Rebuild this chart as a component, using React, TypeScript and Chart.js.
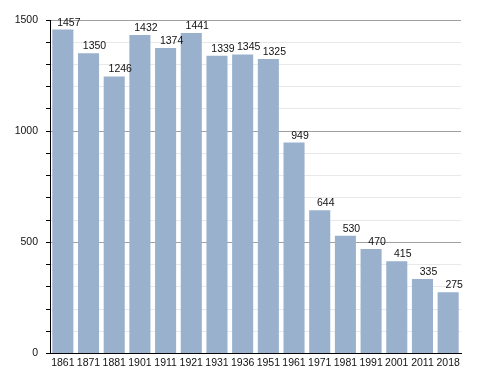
import React, { useEffect, useRef } from "react";
import { Chart, registerables } from "chart.js";

Chart.register(...registerables);

const years = ["1861", "1871", "1881", "1901", "1911", "1921", "1931", "1936", "1951", "1961", "1971", "1981", "1991", "2001", "2011", "2018"];
const population = [1457, 1350, 1246, 1432, 1374, 1441, 1339, 1345, 1325, 949, 644, 530, 470, 415, 335, 275];

const FONT = "'Liberation Sans', Arial, sans-serif";

const valueLabels = {
  id: "valueLabels",
  afterDatasetsDraw(chart: any) {
    const ctx = chart.ctx;
    const meta = chart.getDatasetMeta(0);
    ctx.save();
    ctx.font = `10.5px ${FONT}`;
    ctx.fillStyle = "#111";
    ctx.textAlign = "center";
    ctx.textBaseline = "alphabetic";
    meta.data.forEach((bar: any, i: number) => {
      const v = chart.data.datasets[0].data[i];
      ctx.fillText(String(v), bar.x + 6, bar.y - 4);
    });
    ctx.restore();
  },
};

export default function App() {
  const ref = useRef<HTMLCanvasElement | null>(null);
  useEffect(() => {
    if (!ref.current) return;
    const chart = new Chart(ref.current, {
      type: "bar",
      data: {
        labels: years,
        datasets: [
          {
            data: population,
            backgroundColor: "rgb(153,177,205)",
            borderWidth: 0,
            categoryPercentage: 1,
            barPercentage: 0.82,
          },
        ],
      },
      options: {
        responsive: false,
        animation: false,
        layout: { padding: { left: 0, right: 27, top: 20, bottom: 0 } },
        plugins: { legend: { display: false }, tooltip: { enabled: false } },
        scales: {
          x: {
            grid: { display: true, drawOnChartArea: false, drawTicks: false },
            border: { display: true, color: "#000", width: 1 },
            ticks: {
              font: { family: FONT, size: 10.5 },
              color: "#111",
              padding: 3,
              autoSkip: false,
              maxRotation: 0,
              minRotation: 0,
            },
            afterFit(scale: any) {
              scale.height = 19.5;
            },
          },
          y: {
            min: 0,
            max: 1500,
            ticks: {
              stepSize: 100,
              autoSkip: false,
              font: { family: FONT, size: 10.5 },
              color: "#111",
              padding: 8,
              callback: (v: any) => (Number(v) % 500 === 0 ? String(v) : ""),
            },
            grid: {
              color: (c: any) => (c.tick && c.tick.value % 500 === 0 ? "#a0a0a0" : "#e8e8e8"),
              tickColor: "#000",
              tickLength: 4,
              lineWidth: 1,
            },
            border: { display: true, color: "#000", width: 1 },
            afterFit(scale: any) {
              scale.width = 50;
            },
          },
        },
      },
      plugins: [valueLabels],
    });
    return () => chart.destroy();
  }, []);
  return (
    <div style={{ position: "fixed", left: 0, top: 0, width: 488, height: 373, background: "#fff" }}>
      <canvas ref={ref} width={488} height={373} style={{ display: "block" }} />
    </div>
  );
}
